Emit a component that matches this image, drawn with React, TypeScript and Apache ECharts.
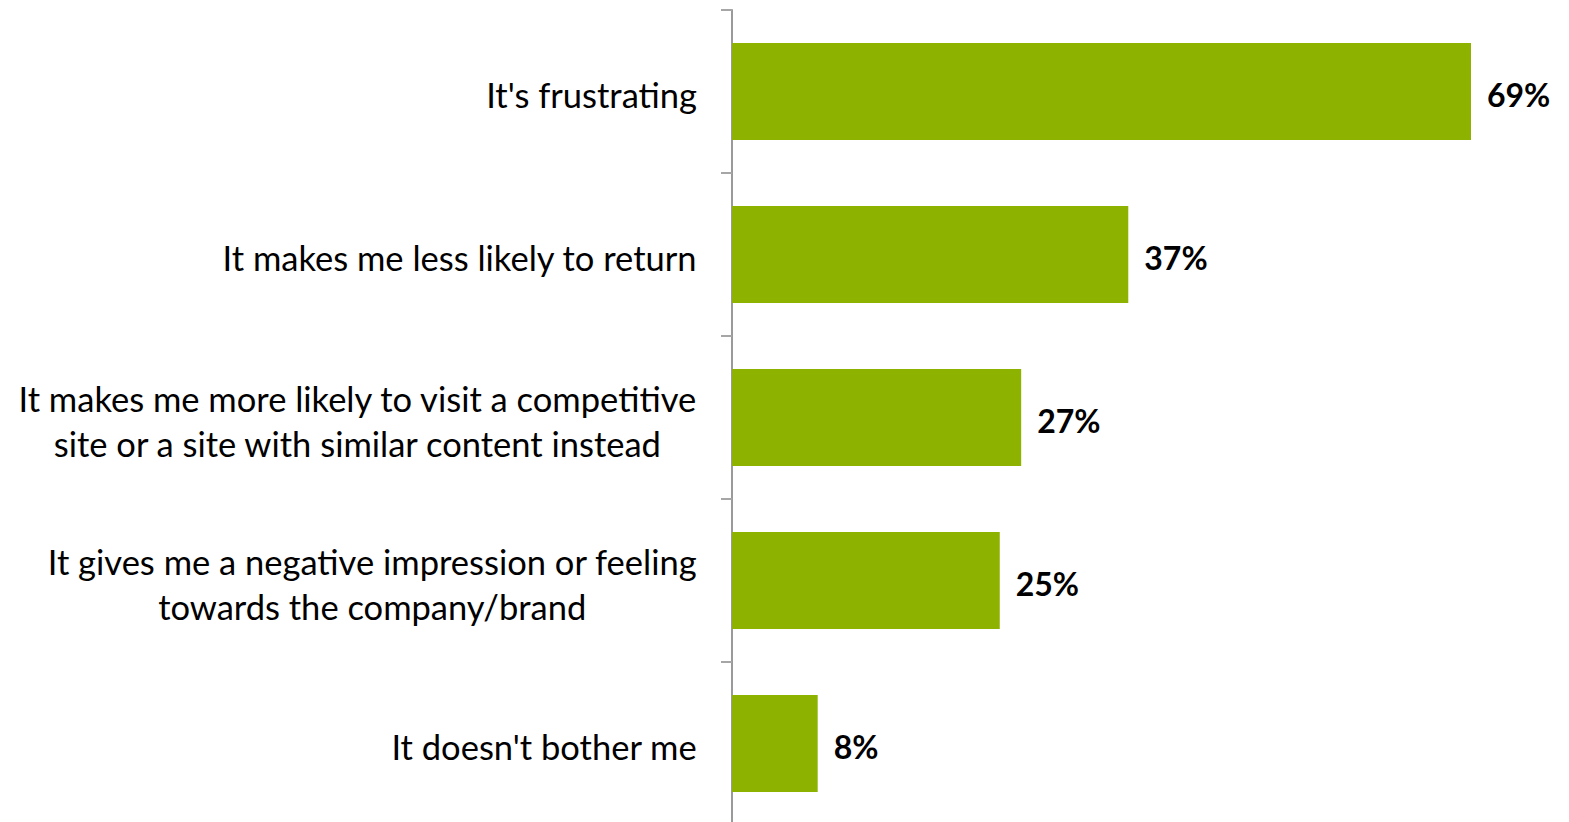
import React, { useEffect, useRef } from "react";
import * as echarts from "echarts";

const categories = [
  "It's frustrating",
  "It makes me less likely to return",
  "It makes me more likely to visit a competitive\nsite or a site with similar content instead",
  "It gives me a negative impression or feeling\ntowards the company/brand",
  "It doesn't bother me",
];
const values = [69, 37, 27, 25, 8];

const FONT = "Lato, 'Open Sans', sans-serif";

export default function App() {
  const ref = useRef<HTMLDivElement>(null);
  useEffect(() => {
    document.body.style.margin = "0";
    document.body.style.overflow = "hidden";
    const chart = echarts.init(ref.current!, undefined, { renderer: "svg" });
    chart.setOption({
      animation: false,
      backgroundColor: "#ffffff",
      grid: { left: 732, right: 98, top: 10, bottom: 0, containLabel: false },
      xAxis: {
        type: "value",
        min: 0,
        max: 69,
        show: false,
      },
      yAxis: {
        type: "category",
        data: categories,
        inverse: true,
        axisLine: { show: true, lineStyle: { color: "#9a9a9a", width: 2 } },
        axisTick: { show: true, length: 11, lineStyle: { color: "#a6a6a6", width: 2 } },
        axisLabel: {
          color: "#000000",
          fontSize: 34.5,
          fontFamily: FONT,
          margin: 35,
          align: "right",
          lineHeight: 45,
          padding: [6, 0, 0, 0],
          formatter: (v: string) =>
            v
              .split("\n")
              .map((l) => "{c|" + l + "}")
              .join("\n"),
          rich: {
            c: {
              align: "center",
              fontSize: 34.5,
              fontFamily: FONT,
              color: "#000000",
              lineHeight: 45,
            },
          },
        },
        splitLine: { show: false },
      },
      series: [
        {
          type: "bar",
          data: values,
          barCategoryGap: "40.5%",
          itemStyle: { color: "#8DB200" },
          label: {
            show: true,
            position: "right",
            distance: 16,
            offset: [0, 3],
            formatter: "{c}%",
            color: "#000000",
            fontSize: 32,
            fontWeight: "bold",
            fontFamily: FONT,
          },
        },
      ],
    });
    return () => chart.dispose();
  }, []);
  return <div ref={ref} style={{ width: 1569, height: 825 }} />;
}
